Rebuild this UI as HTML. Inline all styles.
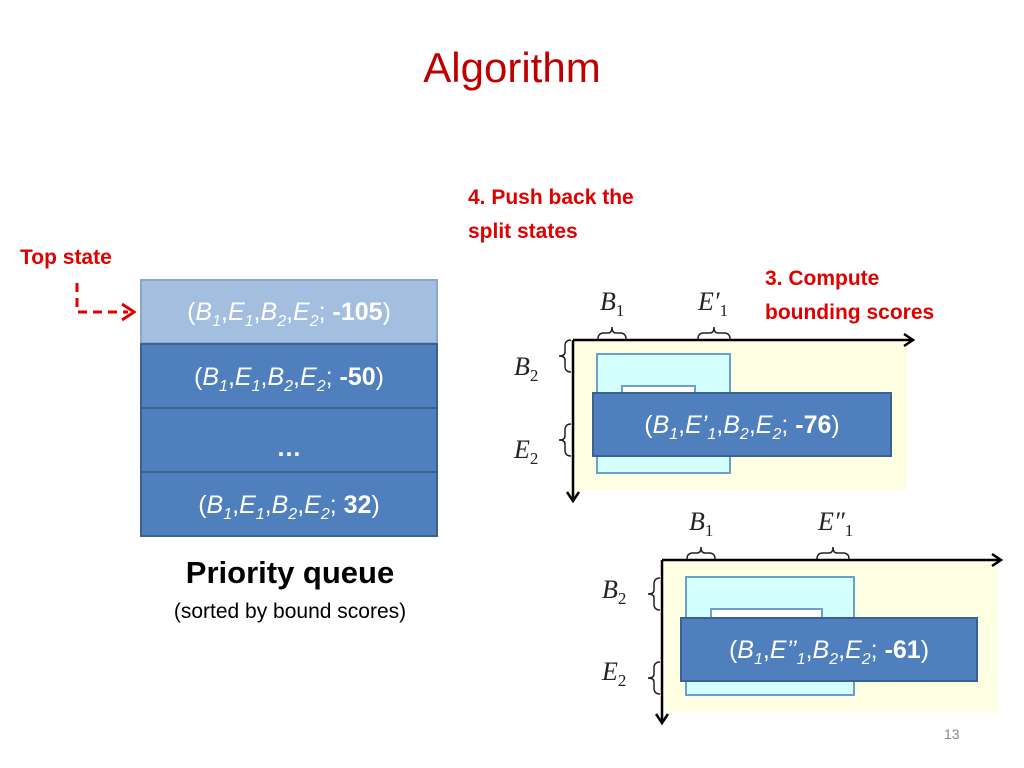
<!DOCTYPE html>
<html><head><meta charset="utf-8"><style>
body{margin:0;width:1024px;height:768px;background:#fff;overflow:hidden;position:relative;font-family:"Liberation Sans",sans-serif}
.a{position:absolute}
.q{position:absolute;left:140px;width:298px;border:2px solid #3a6190;box-sizing:border-box;color:#fff;font-size:25px;text-align:center;font-family:"Liberation Sans",sans-serif}
.red{color:#e00000;font-weight:bold;font-size:21px;position:absolute;line-height:34px}
sub{font-size:16px;line-height:0}
.lab{position:absolute;background:#4f7fbd;border:2px solid #3a6190;box-sizing:border-box;color:#fff;font-size:25px;text-align:center}
</style></head><body>
<div class="a" style="left:0;width:1024px;top:44px;text-align:center;color:#c00000;font-size:42px">Algorithm</div>
<div class="red" style="left:20px;top:241px;line-height:34px">Top state</div>
<div class="red" style="left:468px;top:181px">4. Push back the<br>split states</div>
<div class="red" style="left:765px;top:262px">3. Compute<br>bounding scores</div>
<svg class="a" style="left:0;top:0" width="1024" height="768">
<path d="M77 283 V312 H128" stroke="#e00000" stroke-width="3" fill="none" stroke-dasharray="9,6"/>
<path d="M122 304 L134 312 L122 320" stroke="#e00000" stroke-width="3" fill="none"/>
<rect x="573" y="340" width="334" height="150" fill="#fefee3"/>
<rect x="597" y="354" width="133" height="119" fill="#d4ffff" stroke="#6c9fd1" stroke-width="2"/>
<rect x="622" y="386" width="73" height="30" fill="#fff" stroke="#6c9fd1" stroke-width="2"/>
<path d="M573 340 H912 M573 340 V500" stroke="#000" stroke-width="2.5"/>
<path d="M904 334 L913 340 L904 346 M567 492 L573 501 L579 492" stroke="#000" stroke-width="2.5" fill="none"/>
<rect x="662" y="560" width="336" height="152" fill="#fefee3"/>
<rect x="686" y="577" width="168" height="118" fill="#d4ffff" stroke="#6c9fd1" stroke-width="2"/>
<rect x="711" y="609" width="111" height="30" fill="#fff" stroke="#6c9fd1" stroke-width="2"/>
<path d="M662 560 H1000 M662 560 V722" stroke="#000" stroke-width="2.5"/>
<path d="M992 554 L1001 560 L992 566 M656 714 L662 723 L668 714" stroke="#000" stroke-width="2.5" fill="none"/>
<g font-family="Liberation Serif,serif" font-style="italic" font-size="26" fill="#222">
<text x="600" y="310">B<tspan font-size="17" font-style="normal" dy="6">1</tspan></text>
<text x="698" y="310">E′<tspan font-size="17" font-style="normal" dy="6">1</tspan></text>
<text x="514" y="375">B<tspan font-size="17" font-style="normal" dy="6">2</tspan></text>
<text x="514" y="458">E<tspan font-size="17" font-style="normal" dy="6">2</tspan></text>
<text x="689" y="530">B<tspan font-size="17" font-style="normal" dy="6">1</tspan></text>
<text x="818" y="530">E″<tspan font-size="17" font-style="normal" dy="6">1</tspan></text>
<text x="602" y="598">B<tspan font-size="17" font-style="normal" dy="6">2</tspan></text>
<text x="602" y="680">E<tspan font-size="17" font-style="normal" dy="6">2</tspan></text>
</g>
<g stroke="#222" stroke-width="1.5" fill="none">
<path d="M598 339 q0-6 6-6 h4 q4 0 4-6 q0 6 4 6 h4 q6 0 6 6"/>
<path d="M698 339 q0-6 6-6 h6 q4 0 4-6 q0 6 4 6 h6 q6 0 6 6"/>
<path d="M571 340 q-6 0-6 6 v6 q0 4-6 4 q6 0 6 4 v6 q0 6 6 6"/>
<path d="M571 424 q-6 0-6 6 v6 q0 4-6 4 q6 0 6 4 v6 q0 6 6 6"/>
<path d="M687 559 q0-6 6-6 h4 q4 0 4-6 q0 6 4 6 h4 q6 0 6 6"/>
<path d="M817 559 q0-6 6-6 h6 q4 0 4-6 q0 6 4 6 h6 q6 0 6 6"/>
<path d="M660 578 q-6 0-6 6 v6 q0 4-6 4 q6 0 6 4 v6 q0 6 6 6"/>
<path d="M660 662 q-6 0-6 6 v6 q0 4-6 4 q6 0 6 4 v6 q0 6 6 6"/>
</g>
</svg>
<div class="q" style="top:279px;height:65px;line-height:63px;background:#a3bedf;border-color:#8aa6c8">(<i>B<sub>1</sub></i>,<i>E<sub>1</sub></i>,<i>B<sub>2</sub></i>,<i>E<sub>2</sub></i>; <b>-105</b>)</div>
<div class="q" style="top:343px;height:66px;line-height:64px;background:#4f7fbd">(<i>B<sub>1</sub></i>,<i>E<sub>1</sub></i>,<i>B<sub>2</sub></i>,<i>E<sub>2</sub></i>; <b>-50</b>)</div>
<div class="q" style="top:407px;height:66px;line-height:78px;background:#4f7fbd"><b>…</b></div>
<div class="q" style="top:471px;height:66px;line-height:64px;background:#4f7fbd">(<i>B<sub>1</sub></i>,<i>E<sub>1</sub></i>,<i>B<sub>2</sub></i>,<i>E<sub>2</sub></i>; <b>32</b>)</div>
<div class="a" style="left:140px;width:300px;top:555px;text-align:center;font-size:31px;font-weight:bold">Priority queue</div>
<div class="a" style="left:140px;width:300px;top:600px;text-align:center;font-size:21px">(sorted by bound scores)</div>
<div class="lab" style="left:592px;top:392px;width:300px;height:65px;line-height:63px">(<i>B<sub>1</sub></i>,<i>E’<sub>1</sub></i>,<i>B<sub>2</sub></i>,<i>E<sub>2</sub></i>; <b>-76</b>)</div>
<div class="lab" style="left:680px;top:617px;width:298px;height:65px;line-height:63px">(<i>B<sub>1</sub></i>,<i>E’’<sub>1</sub></i>,<i>B<sub>2</sub></i>,<i>E<sub>2</sub></i>; <b>-61</b>)</div>
<div class="a" style="left:944px;top:726px;font-size:14px;color:#888">13</div>
</body></html>
